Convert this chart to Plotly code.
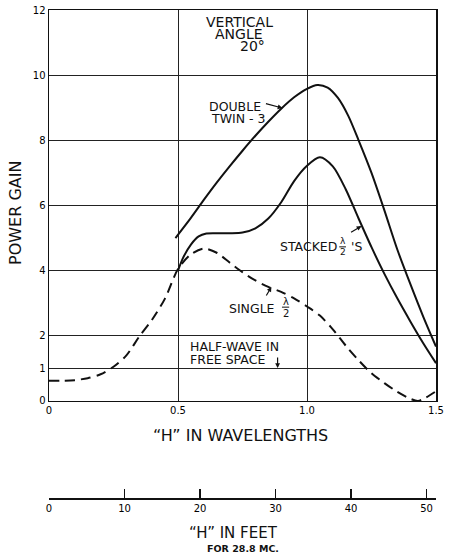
import plotly.graph_objects as go

# ---- data ----
double_x = [0.49, 0.55, 0.6, 0.65, 0.7, 0.75, 0.8, 0.85, 0.9, 0.95, 1.0, 1.04, 1.08, 1.12, 1.16, 1.2, 1.25, 1.3, 1.35, 1.4, 1.45, 1.5]
double_y = [5.0, 5.62, 6.17, 6.7, 7.2, 7.68, 8.14, 8.57, 8.97, 9.32, 9.58, 9.7, 9.62, 9.3, 8.75, 8.0, 7.0, 5.85, 4.65, 3.6, 2.6, 1.67]

stacked_x = [0.5, 0.52, 0.55, 0.58, 0.61, 0.65, 0.7, 0.75, 0.8, 0.85, 0.9, 0.95, 1.0, 1.05, 1.1, 1.15, 1.2, 1.25, 1.3, 1.35, 1.4, 1.45, 1.5]
stacked_y = [4.0, 4.4, 4.8, 5.05, 5.14, 5.15, 5.15, 5.17, 5.3, 5.6, 6.1, 6.75, 7.22, 7.48, 7.2, 6.5, 5.6, 4.72, 3.9, 3.15, 2.45, 1.78, 1.16]

single_x = [0, 0.05, 0.1, 0.15, 0.2, 0.25, 0.3, 0.35, 0.4, 0.45, 0.5, 0.55, 0.6, 0.65, 0.7, 0.75, 0.8, 0.85, 0.9, 0.95, 1.0, 1.05, 1.1, 1.15, 1.2, 1.25, 1.3, 1.35, 1.4, 1.43, 1.46, 1.5]
single_y = [0.62, 0.62, 0.64, 0.7, 0.82, 1.05, 1.4, 1.98, 2.5, 3.15, 4.05, 4.5, 4.68, 4.55, 4.25, 3.95, 3.7, 3.5, 3.35, 3.15, 2.9, 2.62, 2.2, 1.7, 1.25, 0.85, 0.55, 0.28, 0.07, 0.0, 0.1, 0.3]

x_ticks = [0, 0.5, 1.0, 1.5]
x_ticktext = ["0", "0.5", "1.0", "1.5"]
y_ticks = [0, 1, 2, 4, 6, 8, 10, 12]
feet_ticks = [0, 10, 20, 30, 40, 50]
feet_per_wavelength = 984 / 28.8

FONT = "DejaVu Sans"
INK = "#111111"

fig = go.Figure()
fig.add_trace(go.Scatter(x=double_x, y=double_y, mode="lines",
                         line=dict(color=INK, width=2, shape="spline", smoothing=0.8),
                         hoverinfo="skip", showlegend=False))
fig.add_trace(go.Scatter(x=stacked_x, y=stacked_y, mode="lines",
                         line=dict(color=INK, width=2, shape="spline", smoothing=0.8),
                         hoverinfo="skip", showlegend=False))
fig.add_trace(go.Scatter(x=single_x, y=single_y, mode="lines",
                         line=dict(color=INK, width=2, shape="spline", smoothing=0.8, dash="10px,6px"),
                         hoverinfo="skip", showlegend=False))
# dummy trace for the feet axis
fig.add_trace(go.Scatter(x=[0, 50], y=[0, 0], mode="markers", marker=dict(opacity=0),
                         xaxis="x2", yaxis="y2", hoverinfo="skip", showlegend=False))

tickfont = dict(family=FONT, size=10, color="#000000")
fig.update_layout(
    width=449, height=556, autosize=False,
    margin=dict(l=49, r=13, t=10, b=58, autoexpand=False),
    paper_bgcolor="white", plot_bgcolor="white",
    xaxis=dict(range=[0, 1.5], domain=[0, 1], anchor="y", automargin=False,
               tickvals=x_ticks, ticktext=x_ticktext, ticks="",
               showgrid=True, gridcolor="#222222", gridwidth=1,
               showline=True, mirror=True, linecolor=INK, linewidth=1.5,
               zeroline=False, tickfont=tickfont, fixedrange=True),
    yaxis=dict(range=[0, 12], domain=[0.1988, 1], anchor="x", automargin=False,
               tickvals=y_ticks, ticks="",
               showgrid=True, gridcolor="#222222", gridwidth=1,
               showline=True, mirror=True, linecolor=INK, linewidth=1.5,
               zeroline=False, tickfont=tickfont, fixedrange=True),
    xaxis2=dict(range=[0, 1.5 * feet_per_wavelength], domain=[0, 1], anchor="y2", automargin=False,
                tickvals=feet_ticks, ticks="inside", ticklen=9, tickwidth=1.5, tickcolor=INK,
                showgrid=False, showline=True, linecolor=INK, linewidth=1.5,
                zeroline=False, tickfont=tickfont, fixedrange=True),
    yaxis2=dict(range=[0, 1], domain=[0, 0.002], anchor="x2", visible=False,
                automargin=False, fixedrange=True),
)

def lab(text, x, y, size=12.5, xanchor="left", **kw):
    fig.add_annotation(text=text, x=x, y=y, xref="x", yref="y", showarrow=False,
                       xanchor=xanchor, yanchor="middle",
                       font=dict(family=FONT, size=size, color=INK), **kw)

def arrow(x, y, ax, ay):
    fig.add_annotation(text="", x=x, y=y, ax=ax, ay=ay, xref="x", yref="y",
                       axref="x", ayref="y", showarrow=True, arrowhead=2,
                       arrowsize=0.8, arrowwidth=1.2, arrowcolor=INK)

# title block
lab("VERTICAL", 0.738, 11.64, size=14, xanchor="center")
lab("ANGLE", 0.738, 11.27, size=14, xanchor="center")
lab("20°", 0.79, 10.89, size=14, xanchor="center")

# curve labels
lab("DOUBLE", 0.614, 9.05)
lab("TWIN - 3", 0.622, 8.68)
arrow(0.905, 8.99, 0.835, 9.14)

lab("STACKED", 0.886, 4.75)
lab("λ", 1.138, 4.90, size=9, xanchor="center")
lab("2", 1.138, 4.56, size=9, xanchor="center")
fig.add_shape(type="line", x0=1.125, x1=1.151, y0=4.73, y1=4.73, line=dict(color=INK, width=1))
lab("'S", 1.163, 4.75)
arrow(1.211, 5.37, 1.165, 5.15)

lab("SINGLE", 0.688, 2.85)
lab("λ", 0.917, 3.05, size=10, xanchor="center")
lab("2", 0.917, 2.70, size=10, xanchor="center")
fig.add_shape(type="line", x0=0.903, x1=0.931, y0=2.88, y1=2.88, line=dict(color=INK, width=1))
arrow(0.862, 3.50, 0.839, 3.19)

lab("HALF-WAVE IN", 0.537, 1.66)
lab("FREE SPACE", 0.537, 1.27)
arrow(0.886, 1.01, 0.886, 1.38)

# axis titles
def ptxt(text, x, y, size, angle=0, bold=False):
    fig.add_annotation(text=("<b>%s</b>" % text) if bold else text, x=x, y=y,
                       xref="paper", yref="paper", showarrow=False,
                       xanchor="center", yanchor="middle", textangle=angle,
                       font=dict(family=FONT, size=size, color=INK))

ptxt("POWER GAIN", -0.088, 0.584, 16, angle=-90)
ptxt("\u201cH\u201d IN WAVELENGTHS", 0.494, 0.129, 16)
ptxt("\u201cH\u201d IN FEET", 0.478, -0.0717, 15)
ptxt("FOR 28.8 MC.", 0.501, -0.1035, 9.5, bold=True)

fig.write_html("out.html",
               config={"displayModeBar": False, "staticPlot": True},
               post_script="document.body.style.margin='0';document.body.style.overflow='hidden';")
